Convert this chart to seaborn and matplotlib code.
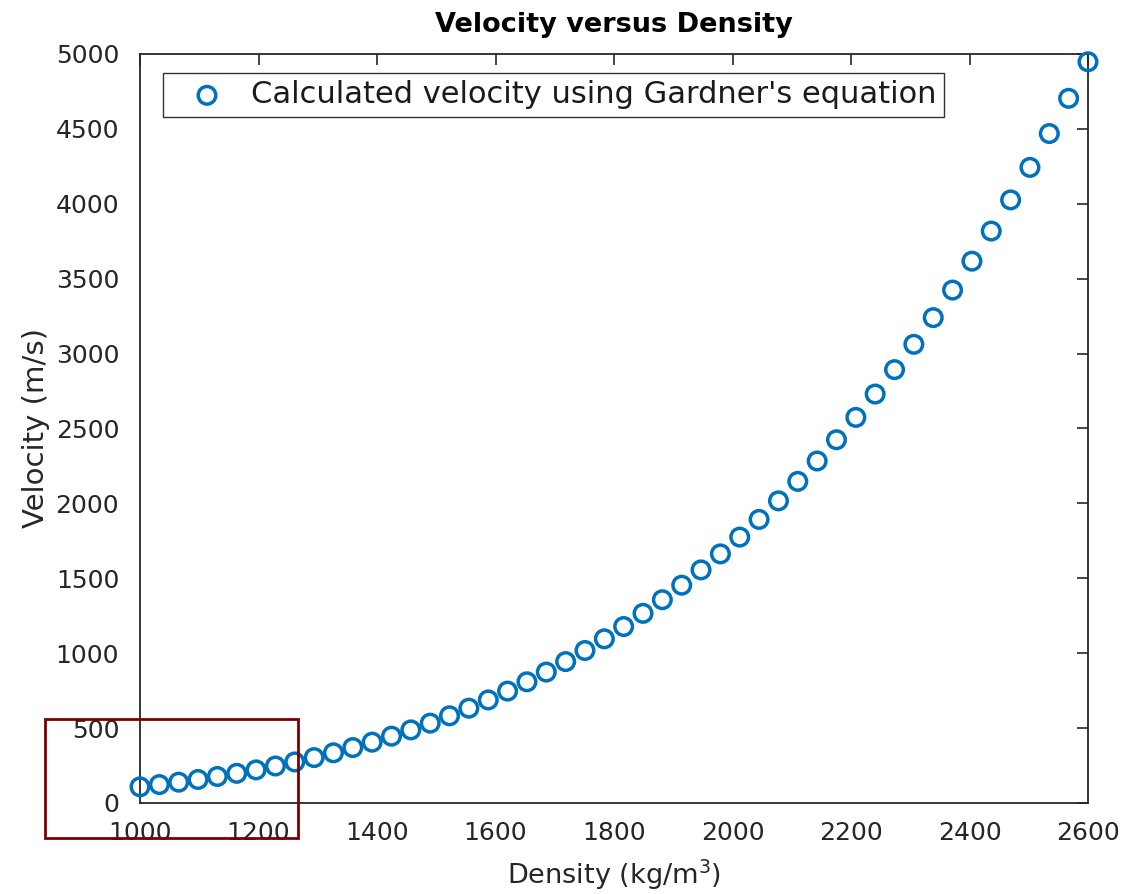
import matplotlib
matplotlib.use("Agg")
import matplotlib.pyplot as plt
import seaborn as sns
import pandas as pd
from matplotlib.patches import Rectangle

density = [1000.0, 1032.7, 1065.3, 1098.0, 1130.6, 1163.3, 1195.9, 1228.6, 1261.2, 1293.9,
           1326.5, 1359.2, 1391.8, 1424.5, 1457.1, 1489.8, 1522.4, 1555.1, 1587.8, 1620.4,
           1653.1, 1685.7, 1718.4, 1751.0, 1783.7, 1816.3, 1849.0, 1881.6, 1914.3, 1946.9,
           1979.6, 2012.2, 2044.9, 2077.6, 2110.2, 2142.9, 2175.5, 2208.2, 2240.8, 2273.5,
           2306.1, 2338.8, 2371.4, 2404.1, 2436.7, 2469.4, 2502.0, 2534.7, 2567.3, 2600.0]
velocity = [108, 123, 139, 157, 177, 198, 221, 247, 274, 303,
            335, 370, 406, 446, 488, 533, 582, 633, 688, 747,
            809, 874, 944, 1018, 1096, 1178, 1266, 1357, 1454, 1556,
            1663, 1775, 1893, 2017, 2147, 2283, 2425, 2574, 2730, 2893,
            3062, 3240, 3424, 3617, 3818, 4026, 4243, 4469, 4704, 4948]
x_ticks = [1000, 1200, 1400, 1600, 1800, 2000, 2200, 2400, 2600]
y_ticks = [0, 500, 1000, 1500, 2000, 2500, 3000, 3500, 4000, 4500, 5000]
series_label = "Calculated velocity using Gardner's equation"

sns.set_style("white")
plt.rcParams['font.family'] = ['DejaVu Sans']

df = pd.DataFrame({"Density": density, "Velocity": velocity})

fig = plt.figure(figsize=(11.23, 8.94), dpi=100)
ax = fig.add_axes([140/1123, 1-803/894, (1088-140)/1123, (803-54)/894])

blue = "#0072BD"
sns.scatterplot(data=df, x="Density", y="Velocity", ax=ax, marker="o", s=160,
                fc="none", ec=blue, linewidth=2.5, label=series_label, zorder=3,
                clip_on=False)

ax.set_xlim(1000, 2600)
ax.set_ylim(0, 5000)
ax.set_xticks(x_ticks)
ax.set_yticks(y_ticks)
dark = "#262626"
ax.tick_params(axis="both", direction="in", length=8, width=1.2, colors=dark,
               labelsize=18, top=True, right=True)
ax.tick_params(axis="y", pad=15)
ax.tick_params(axis="x", pad=13)
for sp in ax.spines.values():
    sp.set_color(dark)
    sp.set_linewidth(1.3)
    sp.set_visible(True)

ax.set_xlabel("Density (kg/m$^3$)", fontsize=19.5, color=dark, labelpad=9)
ax.set_ylabel("Velocity (m/s)", fontsize=21, color=dark, labelpad=4)
ax.set_title("Velocity versus Density", fontsize=19.5, fontweight="bold", color="black", pad=16)

leg = ax.legend(loc="upper left", bbox_to_anchor=(23/948, (803-73)/749), borderaxespad=0,
                fontsize=22, frameon=True, fancybox=False, handletextpad=0.25,
                borderpad=0.24, handlelength=2.4)
leg.get_frame().set_edgecolor("black")
leg.get_frame().set_linewidth(1.0)
for t in leg.get_texts():
    t.set_color("#1a1a1a")

# annotation rectangle drawn over the figure
rect = Rectangle((45/1123, 1-838/894), (298-45)/1123, (838-719)/894,
                 transform=fig.transFigure, fill=False, edgecolor="#7a0000",
                 linewidth=2.0, zorder=10)
fig.patches.append(rect)

fig.savefig("out.png", dpi=100)
